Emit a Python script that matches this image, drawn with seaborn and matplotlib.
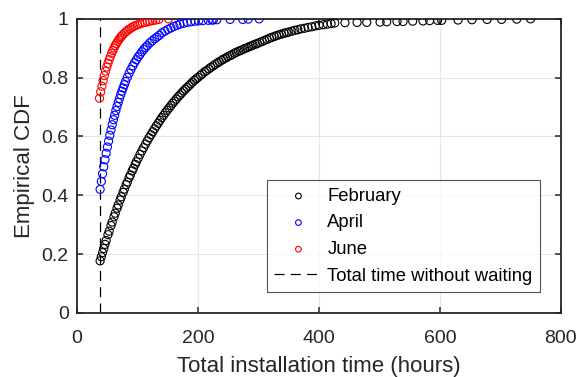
import matplotlib
matplotlib.use("Agg")
import matplotlib.pyplot as plt
import seaborn as sns

# Empirical CDF points (hours, cumulative fraction) per month
feb_hours = [
    38, 40, 42, 44, 46, 48, 51, 53, 56, 58, 61, 63, 66, 68, 71, 73, 76, 78, 81, 83,
    86, 88, 91, 93, 96, 98, 101, 104, 107, 110, 113, 116, 119, 122, 125, 128, 131,
    134, 137, 140, 143, 146, 149, 152, 155, 158, 161, 164, 167, 170, 173, 176, 179,
    182, 185, 188, 191, 194, 197, 200, 204, 207, 211, 214, 218, 221, 225, 228, 232,
    235, 239, 242, 246, 249, 253, 256, 260, 263, 267, 270, 274, 277, 281, 284, 288,
    291, 295, 298, 302, 306, 310, 314, 318, 322, 326, 330, 334, 338, 342, 346, 350,
    355, 360, 365, 370, 376, 382, 388, 394, 400, 407, 414, 420, 426, 443, 463, 479,
    501, 512, 529, 539, 555, 572, 583, 596, 603, 630, 653, 678, 702, 727, 750,
]
feb_cdf = [
    0.177, 0.191, 0.205, 0.219, 0.233, 0.246, 0.266, 0.278, 0.297, 0.309, 0.327,
    0.339, 0.356, 0.367, 0.384, 0.395, 0.410, 0.421, 0.436, 0.445, 0.460, 0.469,
    0.483, 0.492, 0.505, 0.514, 0.526, 0.539, 0.551, 0.562, 0.574, 0.585, 0.596,
    0.606, 0.616, 0.626, 0.636, 0.645, 0.655, 0.664, 0.672, 0.681, 0.689, 0.697,
    0.705, 0.713, 0.720, 0.727, 0.735, 0.741, 0.748, 0.755, 0.761, 0.767, 0.773,
    0.779, 0.785, 0.791, 0.796, 0.801, 0.808, 0.813, 0.820, 0.824, 0.830, 0.835,
    0.840, 0.845, 0.850, 0.854, 0.859, 0.863, 0.867, 0.871, 0.875, 0.878, 0.883,
    0.886, 0.890, 0.892, 0.896, 0.899, 0.902, 0.905, 0.908, 0.911, 0.914, 0.916,
    0.920, 0.923, 0.927, 0.930, 0.934, 0.937, 0.940, 0.943, 0.946, 0.948, 0.951,
    0.953, 0.955, 0.958, 0.961, 0.963, 0.966, 0.968, 0.971, 0.973, 0.976, 0.978,
    0.980, 0.982, 0.984, 0.986, 0.987, 0.988, 0.988, 0.989, 0.990, 0.991, 0.991,
    0.992, 0.993, 0.994, 0.995, 0.995, 0.996, 0.997, 0.998, 0.998, 0.999, 1.000,
]

apr_hours = [
    38, 40, 42, 44, 46, 48, 50, 52, 54, 56, 58, 60, 62, 64, 66, 68, 70, 72, 74, 76,
    78, 80, 83, 86, 89, 92, 95, 98, 101, 104, 107, 110, 113, 116, 120, 124, 128,
    132, 136, 140, 145, 150, 155, 160, 165, 170, 176, 182, 188, 195, 201, 208, 217,
    223, 225, 231, 253, 274, 283, 301,
]
apr_cdf = [
    0.420, 0.447, 0.473, 0.497, 0.521, 0.543, 0.564, 0.584, 0.604, 0.622, 0.640,
    0.657, 0.672, 0.688, 0.702, 0.716, 0.729, 0.742, 0.754, 0.765, 0.776, 0.787,
    0.801, 0.815, 0.828, 0.840, 0.851, 0.861, 0.871, 0.879, 0.888, 0.896, 0.903,
    0.909, 0.918, 0.925, 0.932, 0.938, 0.944, 0.952, 0.958, 0.964, 0.969, 0.974,
    0.978, 0.982, 0.985, 0.988, 0.990, 0.992, 0.993, 0.994, 0.995, 0.996, 0.996,
    0.997, 0.998, 0.998, 0.999, 1.000,
]

jun_hours = [
    37, 39, 41, 43, 45, 47, 49, 51, 53, 55, 57, 59, 61, 63, 65, 67, 69, 71, 73, 75,
    78, 81, 84, 87, 90, 93, 96, 100, 104, 108, 112, 116, 120, 125, 130, 135, 151,
]
jun_cdf = [
    0.730, 0.752, 0.771, 0.790, 0.807, 0.822, 0.836, 0.849, 0.861, 0.872, 0.883,
    0.892, 0.901, 0.909, 0.916, 0.923, 0.929, 0.935, 0.940, 0.945, 0.951, 0.957,
    0.962, 0.966, 0.970, 0.974, 0.977, 0.980, 0.983, 0.986, 0.988, 0.990, 0.992,
    0.994, 0.996, 0.998, 1.000,
]

no_wait_hours = 38

series = [
    ("February", feb_hours, feb_cdf, "#000000"),
    ("April", apr_hours, apr_cdf, "#0000ff"),
    ("June", jun_hours, jun_cdf, "#ff0000"),
]

sns.set_theme(style="white")
plt.rcParams["font.family"] = ["Liberation Sans", "DejaVu Sans"]
text_color = "#262626"

fig = plt.figure(figsize=(5.8, 3.77), dpi=100)
ax = fig.add_axes([0.133, 0.170, 0.834, 0.780])

for name, xs, ys, col in series:
    sns.scatterplot(
        x=xs, y=ys, ax=ax, marker="o", s=34, color=col,
        facecolors="none", edgecolor=col, linewidth=0.8, label=name, zorder=3,
    )

ax.axvline(no_wait_hours, color="#000000", lw=0.9, ls=(0, (8, 5)),
           label="Total time without waiting", zorder=2)

ax.set_xlim(0, 800)
ax.set_ylim(0, 1)
ax.set_xticks([0, 200, 400, 600, 800])
ax.set_yticks([0, 0.2, 0.4, 0.6, 0.8, 1])
ax.set_yticklabels(["0", "0.2", "0.4", "0.6", "0.8", "1"])

ax.grid(True, color="#e6e6e6", lw=0.8)
ax.set_axisbelow(True)
for sp in ax.spines.values():
    sp.set_color("#262626")
    sp.set_linewidth(1.3)
ax.tick_params(direction="in", length=4, width=1.1, color="#262626",
               top=True, right=True, bottom=True, left=True,
               labelsize=14, labelcolor=text_color)
ax.tick_params(axis="x", pad=12)
ax.tick_params(axis="y", pad=6)

ax.set_xlabel("Total installation time (hours)", fontsize=16, color=text_color,
              labelpad=7)
ax.set_ylabel("Empirical CDF", fontsize=16, color=text_color, labelpad=5)

leg = ax.legend(loc="lower right", bbox_to_anchor=(0.957, 0.071), fontsize=13.3,
                frameon=True, fancybox=False, edgecolor="#262626",
                handlelength=2.6, handletextpad=0.27, borderpad=0.4,
                labelspacing=0.52, markerscale=0.7, borderaxespad=0)
leg.get_frame().set_linewidth(0.8)
for t in leg.get_texts():
    t.set_color("#000000")

fig.savefig("out.png", dpi=100)
